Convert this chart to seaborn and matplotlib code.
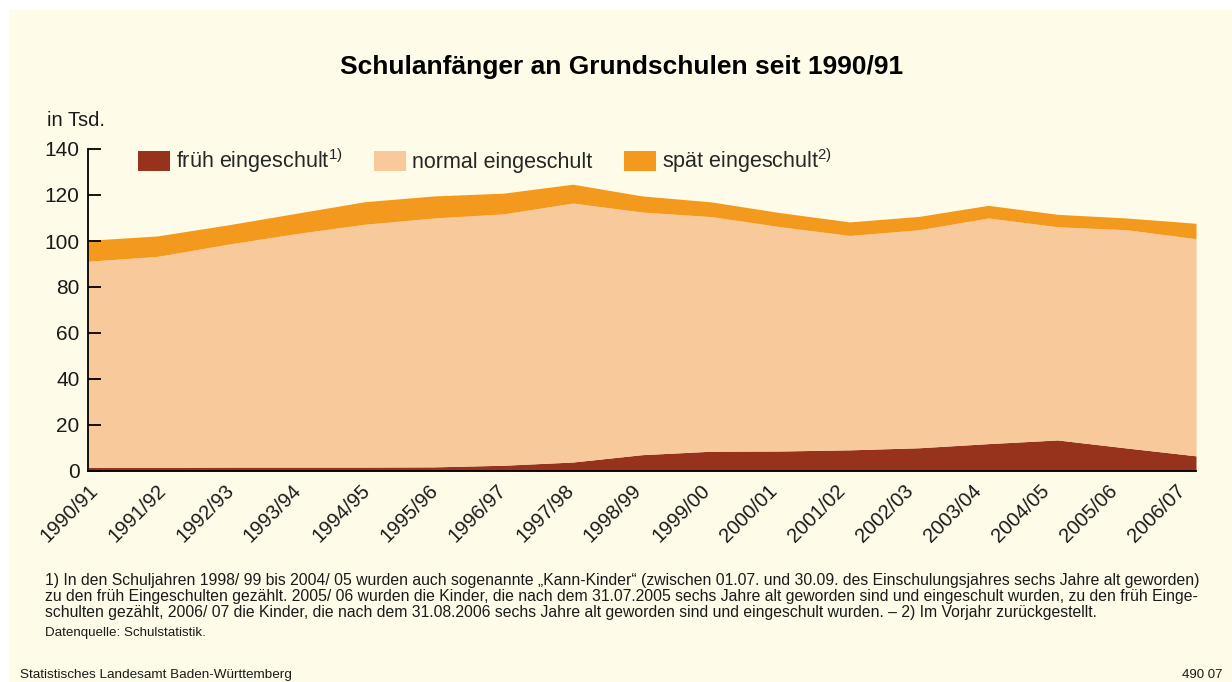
import numpy as np
import pandas as pd
import matplotlib.pyplot as plt
import matplotlib.patches as mpatches
from matplotlib.ticker import FixedLocator
import seaborn as sns

# Schuljahre
years = ["1990/91", "1991/92", "1992/93", "1993/94", "1994/95", "1995/96",
         "1996/97", "1997/98", "1998/99", "1999/00", "2000/01", "2001/02",
         "2002/03", "2003/04", "2004/05", "2005/06", "2006/07"]

# Schulanfänger in Tsd.
frueh = [1.6, 1.6, 1.7, 1.7, 1.7, 1.8, 2.5, 3.9, 7.1, 8.6, 8.7, 9.2,
         10.1, 11.9, 13.5, 10.0, 6.6]
normal = [89.6, 91.7, 96.8, 101.5, 105.6, 108.2, 109.3, 112.6, 105.5, 102.0,
          97.5, 93.2, 94.8, 98.1, 92.7, 94.9, 94.4]
spaet = [9.1, 8.9, 8.4, 8.8, 9.8, 9.6, 9.0, 8.2, 7.0, 6.4, 6.1, 5.9,
         5.8, 5.5, 5.4, 5.1, 6.7]

labels = ["früh eingeschult$^{1)}$", "normal eingeschult", "spät eingeschult$^{2)}$"]
colors = ["#97331D", "#F8C99B", "#F2991E"]
BG = "#FEFBE8"
# Beschriftungen im Original etwas enger gesetzt als die Datenpunkte
TICK_STEP = 68 / 69.25

sns.set_theme(style="white")
plt.rcParams["font.family"] = ["Liberation Sans", "DejaVu Sans"]
plt.rcParams["mathtext.fontset"] = "custom"
plt.rcParams["mathtext.rm"] = "Liberation Sans"
plt.rcParams["mathtext.default"] = "regular"

df = pd.DataFrame({"jahr": years, "frueh": frueh, "normal": normal, "spaet": spaet})
x = np.arange(len(df))

fig = plt.figure(figsize=(12.32, 6.82), dpi=100, facecolor="white")
fig.patches.append(mpatches.Rectangle((9 / 1232, 0), 1, 1 - 10 / 682,
                                      transform=fig.transFigure,
                                      facecolor=BG, edgecolor="none", zorder=-10))

ax = fig.add_axes([88 / 1232, 1 - 471 / 682, (1196 - 88) / 1232, (471 - 149) / 682])
ax.set_facecolor(BG)
ax.set_axisbelow(False)
ax.stackplot(x, df["frueh"], df["normal"], df["spaet"],
             colors=colors, labels=labels, linewidth=0)

ax.set_xlim(0, len(df) - 1)
ax.set_ylim(0, 140)
ax.set_yticks(range(0, 141, 20))
ax.tick_params(axis="y", left=True, direction="in", length=9, width=1.3,
               color="black", labelsize=15, pad=6, labelcolor="#1a1a1a")

tick_pos = x * TICK_STEP
ax.set_xticks(tick_pos)
ax.set_xticklabels(df["jahr"], rotation=45, ha="right", rotation_mode="anchor",
                   fontsize=14.5, color="#1a1a1a")
ax.tick_params(axis="x", which="major", length=0, pad=7)
ax.xaxis.set_minor_locator(FixedLocator(tick_pos[1:]))
ax.tick_params(axis="x", which="minor", direction="in", length=8, width=1.2,
               color="white", bottom=True)

for side in ["top", "right"]:
    ax.spines[side].set_visible(False)
for side in ["left", "bottom"]:
    ax.spines[side].set_color("black")
    ax.spines[side].set_linewidth(1.3)
    ax.spines[side].set_zorder(5)

ax.legend(loc="center left", bbox_to_anchor=(138 / 1232, 1 - 161 / 682),
          bbox_transform=fig.transFigure, ncol=3, frameon=False,
          fontsize=15.5, handlelength=1.5, handleheight=1.1,
          handletextpad=0.28, columnspacing=1.45, borderpad=0, borderaxespad=0)

fig.text(622 / 1232, 1 - 67 / 682, "Schulanfänger an Grundschulen seit 1990/91",
         ha="center", va="center", fontsize=19, fontweight="bold", color="black")
fig.text(47 / 1232, 1 - 120 / 682, "in Tsd.", ha="left", va="center",
         fontsize=14.5, color="#1a1a1a")

notes = [
    "1) In den Schuljahren 1998/ 99 bis 2004/ 05 wurden auch sogenannte „Kann-Kinder“ (zwischen 01.07. und 30.09. des Einschulungsjahres sechs Jahre alt geworden)",
    "zu den früh Eingeschulten gezählt. 2005/ 06 wurden die Kinder, die nach dem 31.07.2005 sechs Jahre alt geworden sind und eingeschult wurden, zu den früh Einge-",
    "schulten gezählt, 2006/ 07 die Kinder, die nach dem 31.08.2006 sechs Jahre alt geworden sind und eingeschult wurden. – 2) Im Vorjahr zurückgestellt.",
]
for i, line in enumerate(notes):
    fig.text(45 / 1232, 1 - (580 + i * 16.5) / 682, line, ha="left", va="center",
             fontsize=11.3, color="#1a1a1a")
fig.text(45 / 1232, 1 - 633 / 682, "Datenquelle: Schulstatistik.", ha="left",
         va="center", fontsize=9.6, color="#1a1a1a")
fig.text(20 / 1232, 1 - 675 / 682, "Statistisches Landesamt Baden-Württemberg",
         ha="left", va="center", fontsize=9.7, color="#1a1a1a")
fig.text(1222 / 1232, 1 - 675 / 682, "490 07", ha="right", va="center",
         fontsize=9.5, color="#1a1a1a")

fig.savefig("out.png", dpi=100, facecolor=fig.get_facecolor())
